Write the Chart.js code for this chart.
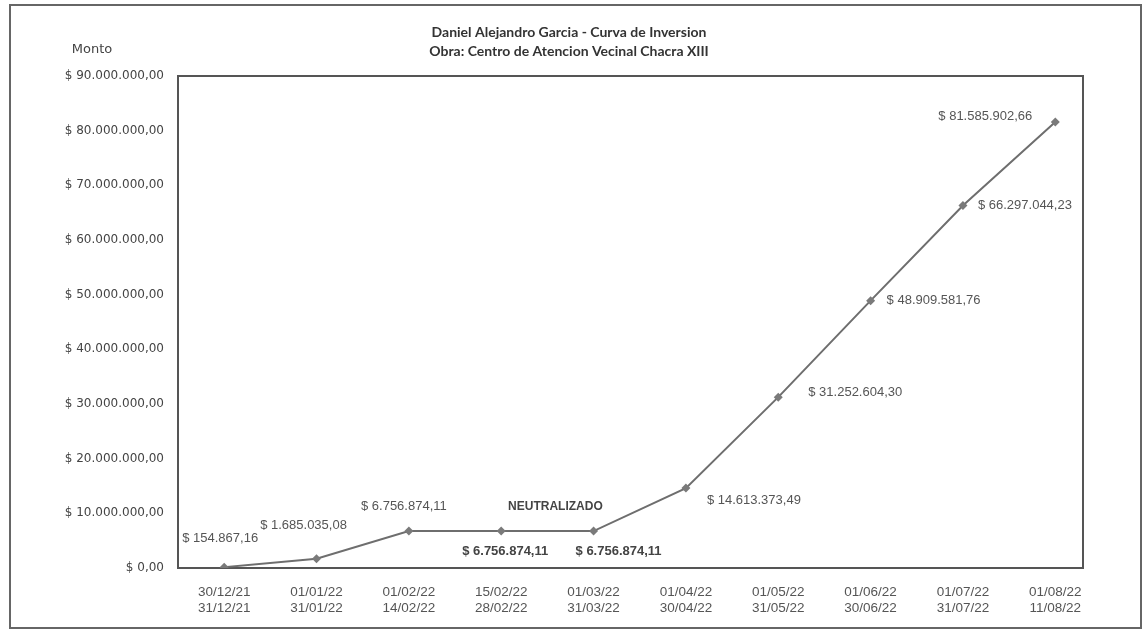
<!DOCTYPE html>
<html>
<head>
<meta charset="utf-8">
<script src="https://cdn.jsdelivr.net/npm/chart.js@4/dist/chart.umd.min.js"></script>
<style>
  html, body { margin: 0; padding: 0; background: #fff; }
  #wrap { width: 1144px; height: 636px; }
</style>
</head>
<body>
<div id="wrap"><canvas id="curva" width="1144" height="636"></canvas></div>
<script>
// Curva de inversion - datos
const categories = [
  ['30/12/21', '31/12/21'],
  ['01/01/22', '31/01/22'],
  ['01/02/22', '14/02/22'],
  ['15/02/22', '28/02/22'],
  ['01/03/22', '31/03/22'],
  ['01/04/22', '30/04/22'],
  ['01/05/22', '31/05/22'],
  ['01/06/22', '30/06/22'],
  ['01/07/22', '31/07/22'],
  ['01/08/22', '11/08/22']
];
const montos = [154867.16, 1685035.08, 6756874.11, 6756874.11, 6756874.11,
  14613373.49, 31252604.30, 48909581.76, 66297044.23, 81585902.66];
const yTicks = [0, 10000000, 20000000, 30000000, 40000000, 50000000, 60000000, 70000000, 80000000, 90000000];
const titleLines = ['Daniel Alejandro Garcia - Curva de Inversion', 'Obra: Centro de Atencion Vecinal Chacra XIII'];
const neutralText = 'NEUTRALIZADO';

// label placement relative to each point: [dx, dy, align, bold]
const labelPos = [
  [-4, -29, 'center', false],
  [-13, -33, 'center', false],
  [-5, -25, 'center', false],
  [4, 20, 'center', true],
  [25, 20, 'center', true],
  [21, 12, 'left', false],
  [30, -5, 'left', false],
  [16, 0, 'left', false],
  [15, 0, 'left', false],
  [-23, -6, 'right', false]
];

function pesos(v) {
  const parts = v.toFixed(2).split('.');
  const ent = parts[0].replace(/\B(?=(\d{3})+(?!\d))/g, '.');
  return '$ ' + ent + ',' + parts[1];
}

const decoPlugin = {
  id: 'deco',
  beforeDatasetsDraw(chart) {
    const { ctx, chartArea: a } = chart;
    ctx.save();
    // outer border
    ctx.strokeStyle = '#666';
    ctx.lineWidth = 2;
    ctx.strokeRect(10, 5, 1131, 623);
    // plot frame
    ctx.strokeStyle = '#555';
    ctx.strokeRect(a.left, a.top, a.right - a.left, a.bottom - a.top);
    // titles
    ctx.fillStyle = '#333';
    ctx.textAlign = 'center';
    ctx.textBaseline = 'middle';
    ctx.font = 'bold 14px Lato, "DejaVu Sans", sans-serif';
    ctx.fillText(titleLines[0], 569, 32);
    ctx.fillText(titleLines[1], 569, 51);
    ctx.font = '13px "DejaVu Sans", sans-serif';
    ctx.fillStyle = '#444';
    ctx.fillText('Monto', 92, 50);
    ctx.restore();
  },
  afterDatasetsDraw(chart) {
    const { ctx } = chart;
    const pts = chart.getDatasetMeta(0).data;
    ctx.save();
    ctx.textBaseline = 'middle';
    pts.forEach((p, i) => {
      const [dx, dy, align, bold] = labelPos[i];
      ctx.font = (bold ? 'bold ' : '') + '13px "Liberation Sans", Arial, sans-serif';
      ctx.fillStyle = bold ? '#444' : '#555';
      ctx.textAlign = align;
      ctx.fillText(pesos(montos[i]), p.x + dx, p.y + dy);
    });
    // NEUTRALIZADO between the flat points
    ctx.font = 'bold 12px "Liberation Sans", Arial, sans-serif';
    ctx.fillStyle = '#444';
    ctx.textAlign = 'center';
    ctx.fillText(neutralText, (pts[3].x + pts[4].x) / 2 + 8, pts[3].y - 24);
    ctx.restore();
  }
};

const ctx = document.getElementById('curva').getContext('2d');
const curva = new Chart(ctx, {
  type: 'line',
  data: {
    datasets: [{
      label: 'Monto',
      data: montos.map((v, i) => ({ x: i, y: v })),
      borderColor: '#6e6e6e',
      borderWidth: 2,
      backgroundColor: '#7a7a7a',
      pointStyle: 'rectRot',
      pointRadius: 4.5,
      pointBorderWidth: 0,
      pointBackgroundColor: '#7a7a7a',
      tension: 0
    }]
  },
  options: {
    responsive: false,
    animation: false,
    layout: { padding: { left: 10, top: 76, right: 61, bottom: 10 } },
    plugins: {
      legend: { display: false },
      tooltip: { enabled: false }
    },
    scales: {
      x: {
        type: 'linear',
        min: -0.5,
        max: 9.3,
        grid: { display: false, drawTicks: false },
        border: { display: false },
        afterFit: s => { s.height = 58; },
        afterBuildTicks: s => { s.ticks = categories.map((c, i) => ({ value: i })); },
        ticks: {
          padding: 16,
          color: '#555',
          font: { family: '"Liberation Sans", Arial, sans-serif', size: 13.5, lineHeight: 1.18 },
          maxRotation: 0,
          autoSkip: false,
          callback: v => categories[v]
        }
      },
      y: {
        min: 0,
        max: 90000000,
        grid: { display: false, drawTicks: false },
        border: { display: false },
        afterFit: s => { s.width = 168; },
        afterBuildTicks: s => { s.ticks = yTicks.map(v => ({ value: v })); },
        ticks: {
          padding: 14,
          color: '#444',
          font: { family: '"DejaVu Sans", sans-serif', size: 12 },
          callback: v => pesos(v)
        }
      }
    }
  },
  plugins: [decoPlugin]
});
</script>
</body>
</html>
